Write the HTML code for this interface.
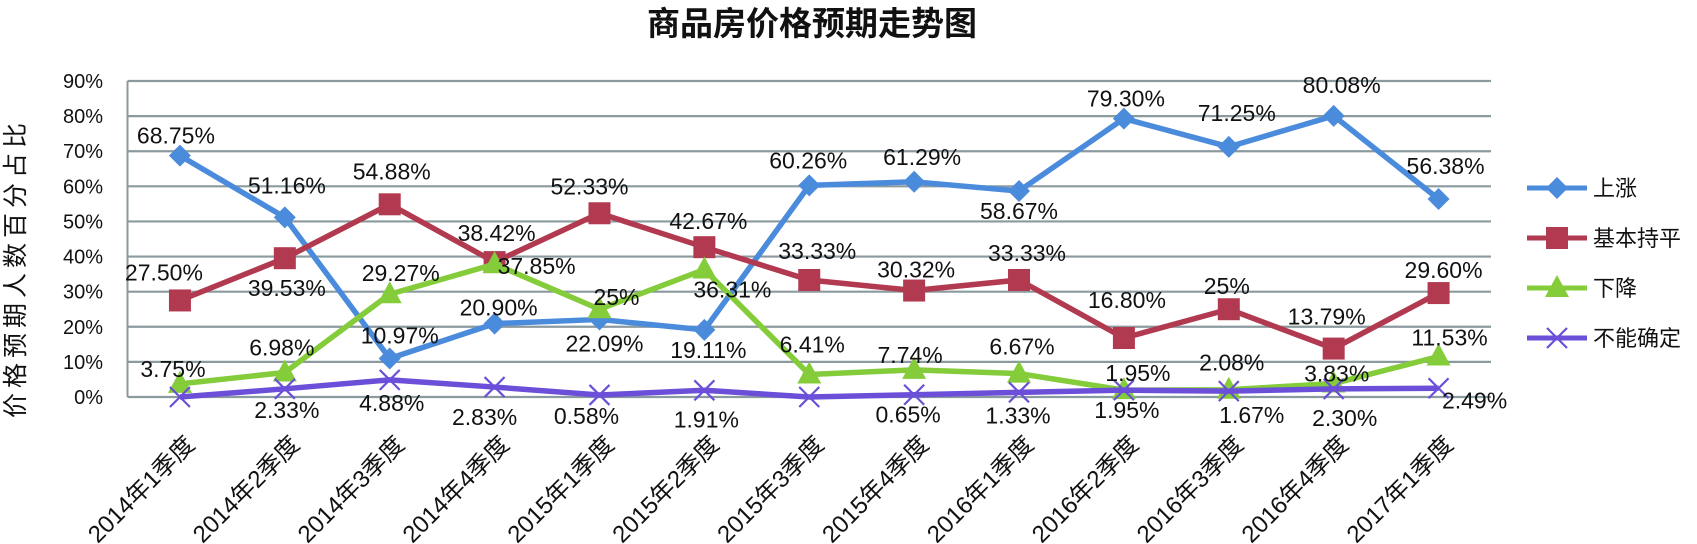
<!DOCTYPE html>
<html><head><meta charset="utf-8"><style>
html,body{margin:0;padding:0;background:#fff}
svg{display:block}
text{font-family:"Liberation Sans","Noto Sans CJK SC",sans-serif;fill:#111}
</style></head><body>
<svg id="chart" width="1697" height="544" viewBox="0 0 1697 544" xmlns="http://www.w3.org/2000/svg">
<text x="812" y="35" text-anchor="middle" font-size="33" font-weight="bold" style="font-family:'Noto Sans CJK SC',sans-serif">商品房价格预期走势图</text>
<text transform="translate(24,268) rotate(-90)" text-anchor="middle" font-size="25" letter-spacing="5" style="font-family:'Noto Sans CJK SC',sans-serif">价格预期人数百分占比</text>
<g id="grid"></g><g id="series"></g><g id="labels"></g><g id="legend"></g>
</svg>
<script>
const categories=["2014年1季度","2014年2季度","2014年3季度","2014年4季度","2015年1季度","2015年2季度","2015年3季度","2015年4季度","2016年1季度","2016年2季度","2016年3季度","2016年4季度","2017年1季度"];
const seriesNames=["上涨","基本持平","下降","不能确定"];
const riseValues=[68.75,51.16,10.97,20.90,22.09,19.11,60.26,61.29,58.67,79.30,71.25,80.08,56.38];
const flatValues=[27.50,39.53,54.88,38.42,52.33,42.67,33.33,30.32,33.33,16.80,25,13.79,29.60];
const fallValues=[3.75,6.98,29.27,37.85,25,36.31,6.41,7.74,6.67,1.95,2.08,3.83,11.53];
const unsureValues=[0,2.33,4.88,2.83,0.58,1.91,0,0.65,1.33,1.95,1.67,2.30,2.49];
const riseLabels=["68.75%","51.16%","10.97%","20.90%","22.09%","19.11%","60.26%","61.29%","58.67%","79.30%","71.25%","80.08%","56.38%"];
const flatLabels=["27.50%","39.53%","54.88%","38.42%","52.33%","42.67%","33.33%","30.32%","33.33%","16.80%","25%","13.79%","29.60%"];
const fallLabels=["3.75%","6.98%","29.27%","37.85%","25%","36.31%","6.41%","7.74%","6.67%","1.95%","2.08%","3.83%","11.53%"];
const unsureLabels=["","2.33%","4.88%","2.83%","0.58%","1.91%","","0.65%","1.33%","1.95%","1.67%","2.30%","2.49%"];
const yTicks=[0,10,20,30,40,50,60,70,80,90];
const yTickLabels=["0%","10%","20%","30%","40%","50%","60%","70%","80%","90%"];

const NS="http://www.w3.org/2000/svg";
const L=127.5,R=1491,Y0=397,Y90=81;
const step=(R-L)/categories.length;
const xAt=i=>L+step*(i+0.5);
const yAt=v=>Y0-(Y0-Y90)*v/90;
function mk(tag,attrs,parent){const e=document.createElementNS(NS,tag);for(const k in attrs)e.setAttribute(k,attrs[k]);parent.appendChild(e);return e;}
const grid=document.getElementById('grid'),sg=document.getElementById('series'),lg=document.getElementById('labels'),leg=document.getElementById('legend');

yTicks.forEach((t,i)=>{
  const gl=mk('line',{x1:L,x2:R,y1:yAt(t),y2:yAt(t),stroke:'#8b9a9f','stroke-width':2.2},grid);
  
  
  const tl=mk('text',{x:103,y:yAt(t)+7,'text-anchor':'end','font-size':20},grid);
  tl.textContent=yTickLabels[i];
  
  
});
const ax=mk('line',{x1:L,x2:L,y1:Y90,y2:Y0,stroke:'#8b9a9f','stroke-width':2},grid);


categories.forEach((c,i)=>{
  const t=mk('text',{transform:`translate(${xAt(i)+16},446) rotate(-45)`,'text-anchor':'end','font-size':24},grid);
  t.textContent=c;
  
  
});

function marker(type,x,y,color,parent){
  let e;
  if(type==='diamond')e=mk('polygon',{points:`${x},${y-11} ${x+11},${y} ${x},${y+11} ${x-11},${y}`,fill:color},parent);
  else if(type==='square')e=mk('rect',{x:x-11,y:y-11,width:22,height:22,fill:color},parent);
  else if(type==='triangle')e=mk('polygon',{points:`${x},${y-13} ${x+12},${y+9} ${x-12},${y+9}`,fill:color},parent);
  else {e=mk('path',{d:`M${x-10},${y-10}L${x+10},${y+10}M${x+10},${y-10}L${x-10},${y+10}`,stroke:color,'stroke-width':2.2,fill:'none'},parent);}
  return e;
}
const riseOff=[[-4,-20],[2,-32],[10,-23],[4,-16],[5,24],[4,20],[-1,-25],[8,-25],[0,20],[2,-20],[8,-34],[8,-31],[7,-33]];
const flatOff=[[-16,-28],[2,30],[2,-33],[2,-29],[-10,-27],[4,-26],[8,-29],[2,-21],[8,-27],[3,-38],[-2,-23],[-7,-32],[5,-23]];
const fallOff=[[-7,-15],[-3,-25],[11,-21],[42,2],[17,-12],[28,20],[3,-30],[-4,-15],[3,-27],[14,-17],[3,-27],[3,-10],[11,-19]];
const unsureOff=[[0,0],[2,21],[2,23],[-10,30],[-13,21],[2,29],[0,0],[-6,20],[-1,23],[3,20],[23,24],[11,29],[36,12]];
const defs=[
 {vals:riseValues,labs:riseLabels,off:riseOff,color:'#4a8bdc',m:'diamond',name:'rise'},
 {vals:flatValues,labs:flatLabels,off:flatOff,color:'#b23a50',m:'square',name:'flat'},
 {vals:fallValues,labs:fallLabels,off:fallOff,color:'#84cc3a',m:'triangle',name:'fall'},
 {vals:unsureValues,labs:unsureLabels,off:unsureOff,color:'#6b4fd8',m:'x',name:'unsure'}
];
defs.forEach(d=>{
  const g=mk('g',{},sg);
  
  
  const pl=mk('polyline',{points:d.vals.map((v,i)=>xAt(i)+','+yAt(v)).join(' '),fill:'none',stroke:d.color,'stroke-width':5.5,'stroke-linejoin':'round'},g);
  
  
  d.vals.forEach((v,i)=>{
    const m=marker(d.m,xAt(i),yAt(v),d.color,g);
    
    
    if(d.labs[i]){
      const t=mk('text',{x:xAt(i)+d.off[i][0],y:yAt(v)+d.off[i][1]+8,'text-anchor':'middle','font-size':23},lg);
      t.textContent=d.labs[i];
      
      
    }
  });
  const k=defs.indexOf(d),ly=188+k*50;
  const le=mk('g',{},leg);
  
  
  mk('line',{x1:1527,x2:1587,y1:ly,y2:ly,stroke:d.color,'stroke-width':5},le);
  marker(d.m,1557,ly,d.color,le);
  const lt=mk('text',{x:1593,y:ly+8,'font-size':22,style:"font-family:'Noto Sans CJK SC',sans-serif"},le);
  lt.textContent=seriesNames[k];
});
</script>
</body></html>
